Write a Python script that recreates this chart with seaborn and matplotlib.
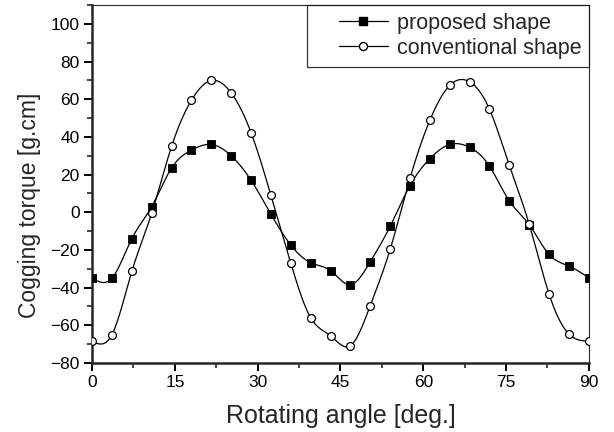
import numpy as np
import matplotlib
matplotlib.use("Agg")
import matplotlib.pyplot as plt
import seaborn as sns
from matplotlib.lines import Line2D
from matplotlib.legend_handler import HandlerLine2D
from matplotlib.ticker import MultipleLocator

# rotating angle [deg.], one sample every 3.6 deg
angle = [0, 3.6, 7.2, 10.8, 14.4, 18, 21.6, 25.2, 28.8, 32.4, 36, 39.6, 43.2,
         46.8, 50.4, 54, 57.6, 61.2, 64.8, 68.4, 72, 75.6, 79.2, 82.8, 86.4, 90]

# cogging torque [g.cm]
proposed = [-35, -35, -14, 3, 23.5, 33, 36, 30, 17, -1, -17.4, -26.8, -31,
            -38.5, -26.3, -7.5, 14.2, 28.5, 36, 34.5, 24.5, 6, -6.6, -22.4, -28.6, -34.8]
conventional = [-68.6, -65, -31.4, -0.5, 35, 59.5, 70, 63.4, 42.3, 9, -27, -56,
                -65.6, -70.9, -49.6, -19.7, 18, 48.9, 67.4, 69.3, 54.7, 24.9,
                -6.4, -43.5, -64.7, -68.4]

labels = ["proposed shape", "conventional shape"]


def smooth(x, y, n=600):
    # natural cubic spline, like the spline connection of the original plot
    x = np.asarray(x, float)
    y = np.asarray(y, float)
    h = np.diff(x)
    m = len(x)
    A = np.zeros((m, m))
    b = np.zeros(m)
    A[0, 0] = A[-1, -1] = 1
    for i in range(1, m - 1):
        A[i, i - 1] = h[i - 1]
        A[i, i] = 2 * (h[i - 1] + h[i])
        A[i, i + 1] = h[i]
        b[i] = 6 * ((y[i + 1] - y[i]) / h[i] - (y[i] - y[i - 1]) / h[i - 1])
    M = np.linalg.solve(A, b)
    xf = np.linspace(x[0], x[-1], n)
    k = np.clip(np.searchsorted(x, xf) - 1, 0, m - 2)
    hk = h[k]
    a = x[k + 1] - xf
    t = xf - x[k]
    yf = (M[k] * a ** 3 + M[k + 1] * t ** 3) / (6 * hk) \
        + (y[k] / hk - M[k] * hk / 6) * a + (y[k + 1] / hk - M[k + 1] * hk / 6) * t
    return xf, yf


sns.set_style("ticks")
plt.rcParams["font.family"] = ["Liberation Sans", "DejaVu Sans"]

fig = plt.figure(figsize=(6.14, 4.32), dpi=100)
ax = fig.add_axes([0.15, 0.16, 0.809, 0.828])

for vals in (proposed, conventional):
    xf, yf = smooth(angle, vals)
    sns.lineplot(x=xf, y=yf, color="black", linewidth=0.9, ax=ax, sort=False, estimator=None)

sns.scatterplot(x=angle, y=proposed, marker="s", s=26, color="black",
                edgecolor="black", linewidth=0.6, ax=ax, zorder=3)
sns.scatterplot(x=angle, y=conventional, marker="o", s=32, color="white",
                edgecolor="black", linewidth=0.9, ax=ax, zorder=3)

ax.set_xlim(0, 90)
ax.set_ylim(-80, 110)
ax.xaxis.set_major_locator(MultipleLocator(15))
ax.xaxis.set_minor_locator(MultipleLocator(7.5))
ax.set_yticks(range(-80, 101, 20))
ax.yaxis.set_minor_locator(MultipleLocator(10))
ax.tick_params(which="major", length=6, width=1.4, pad=3, labelsize=12.5, colors="black")
ax.tick_params(which="minor", length=3.5, width=1.2)

for side in ("left", "bottom"):
    ax.spines[side].set_linewidth(1.8)
for side in ("top", "right"):
    ax.spines[side].set_visible(True)
    ax.spines[side].set_linewidth(0.8)

ax.set_xlabel("Rotating angle [deg.]", fontsize=18, labelpad=10)
ax.set_ylabel("Cogging torque [g.cm]", fontsize=16.5)
ax.yaxis.set_label_coords(-0.103, 0.44)

handles = [
    Line2D([], [], color="black", lw=0.9, marker="s", markersize=5.2, markerfacecolor="black"),
    Line2D([], [], color="black", lw=0.9, marker="o", markersize=5.8, markerfacecolor="white"),
]
leg = ax.legend(handles, labels, loc="upper right", fontsize=15.5, frameon=True,
                fancybox=False, edgecolor="black", handlelength=3.4,
                borderaxespad=0.0, borderpad=0.35, labelspacing=0.2, handletextpad=0.4,
                handler_map={Line2D: HandlerLine2D(xpad=1.1)})
leg.get_frame().set_linewidth(0.9)

fig.savefig("out.png", dpi=100)
